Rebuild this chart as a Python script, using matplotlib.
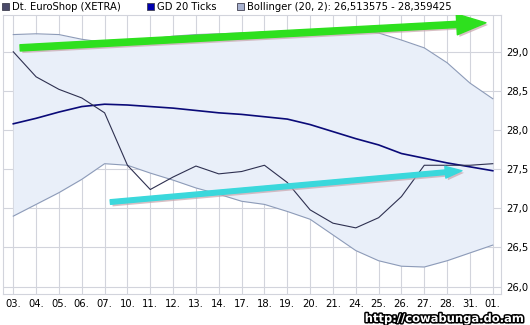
import matplotlib.pyplot as plt
import matplotlib.patheffects as pe
from matplotlib.patches import FancyArrowPatch, Rectangle, ArrowStyle
import numpy as np

# Werte
labels = ['03.', '04.', '05.', '06.', '07.', '10.', '11.', '12.', '13.', '14.', '17.',
          '18.', '19.', '20.', '21.', '24.', '25.', '26.', '27.', '28.', '31.', '01.']
price = [29.00, 28.68, 28.52, 28.41, 28.22, 27.55, 27.24, 27.40, 27.54, 27.44, 27.47,
         27.55, 27.33, 26.98, 26.81, 26.75, 26.88, 27.15, 27.55, 27.55, 27.55, 27.57]
ma20 = [28.08, 28.15, 28.23, 28.30, 28.33, 28.32, 28.30, 28.28, 28.25, 28.22, 28.20,
        28.17, 28.14, 28.07, 27.98, 27.89, 27.81, 27.70, 27.64, 27.58, 27.53, 27.48]
upper = [29.22, 29.23, 29.22, 29.16, 29.12, 29.13, 29.16, 29.20, 29.22, 29.23, 29.24,
         29.25, 29.26, 29.27, 29.28, 29.28, 29.24, 29.15, 29.05, 28.86, 28.60, 28.40]
lower = [26.90, 27.05, 27.20, 27.37, 27.57, 27.55, 27.45, 27.36, 27.26, 27.18, 27.09,
         27.05, 26.96, 26.86, 26.66, 26.46, 26.33, 26.26, 26.25, 26.33, 26.43, 26.53]
yticks = [26.0, 26.5, 27.0, 27.5, 28.0, 28.5, 29.0]

# Pfeile (Start, Ende) in Datenkoordinaten
green_arrow = [(0.3, 29.05), (20.7, 29.37)]
cyan_arrow = [(4.25, 27.08), (19.65, 27.48)]

x = np.arange(len(labels))

fig = plt.figure(figsize=(5.3, 3.25), dpi=100)
ax = fig.add_axes([3 / 530, 1 - 294 / 325, 498 / 530, 279 / 325])

ax.fill_between(x, lower, upper, color='#e9eff9', lw=0, zorder=1)
ax.plot(x, upper, color='#8d9bb8', lw=0.8, zorder=3)
ax.plot(x, lower, color='#8d9bb8', lw=0.8, zorder=3)
ax.plot(x, ma20, color='#0a0a78', lw=1.2, zorder=4)
ax.plot(x, price, color='#2e3050', lw=0.8, zorder=5)

ax.set_xlim(-0.45, 21.36)
ax.set_ylim(25.905, 29.47)
ax.set_xticks(x)
ax.set_xticklabels(labels)
ax.set_yticks(yticks)
ax.set_yticklabels([('%.1f' % v).replace('.', ',') for v in yticks])
ax.yaxis.tick_right()
ax.tick_params(length=0, labelsize=7.2, colors='black')
ax.tick_params(axis='x', pad=3.5)
ax.tick_params(axis='y', pad=4)
ax.grid(True, color='#d2d4dc', lw=0.8, zorder=0)
ax.set_axisbelow(True)
for s in ax.spines.values():
    s.set_color('#d2d4dc')
    s.set_linewidth(0.8)

# Pfeile
shadow = [pe.SimplePatchShadow(offset=(1.5, -1.5), shadow_rgbFace='#c8a4ac', alpha=0.7), pe.Normal()]
arr = FancyArrowPatch(green_arrow[0], green_arrow[1], mutation_scale=1,
                      arrowstyle=ArrowStyle.Simple(head_length=21, head_width=15, tail_width=4.5),
                      color='#2ee01e', shrinkA=0, shrinkB=0, zorder=6, path_effects=shadow)
ax.add_patch(arr)
arr2 = FancyArrowPatch(cyan_arrow[0], cyan_arrow[1], mutation_scale=1,
                       arrowstyle=ArrowStyle.Simple(head_length=12, head_width=8.5, tail_width=3.3),
                       color='#3ad8dc', shrinkA=0, shrinkB=0, zorder=6, path_effects=shadow)
ax.add_patch(arr2)

# Legende oben
leg = [('Dt. EuroShop (XETRA)', '#4a4a6a', 2),
       ('GD 20 Ticks', '#0000b0', 147),
       ('Bollinger (20, 2): 26,513575 - 28,359425', '#a8b2d0', 237)]
for txt, col, px in leg:
    fig.patches.append(Rectangle((px / 530, 1 - 10 / 325), 7 / 530, 7 / 325,
                                 transform=fig.transFigure, facecolor=col,
                                 edgecolor='#404050', lw=0.6))
    fig.text((px + 10) / 530, 1 - 7 / 325, txt, fontsize=7.2, va='center', ha='left')

# Wasserzeichen
fig.text(524 / 530, 1 - 318.5 / 325, 'http://cowabunga.do.am', fontsize=8.3,
         fontweight='bold', color='white', ha='right', va='center',
         path_effects=[pe.withStroke(linewidth=2.2, foreground='black')])

plt.savefig('out.png', dpi=100)
plt.close(fig)
